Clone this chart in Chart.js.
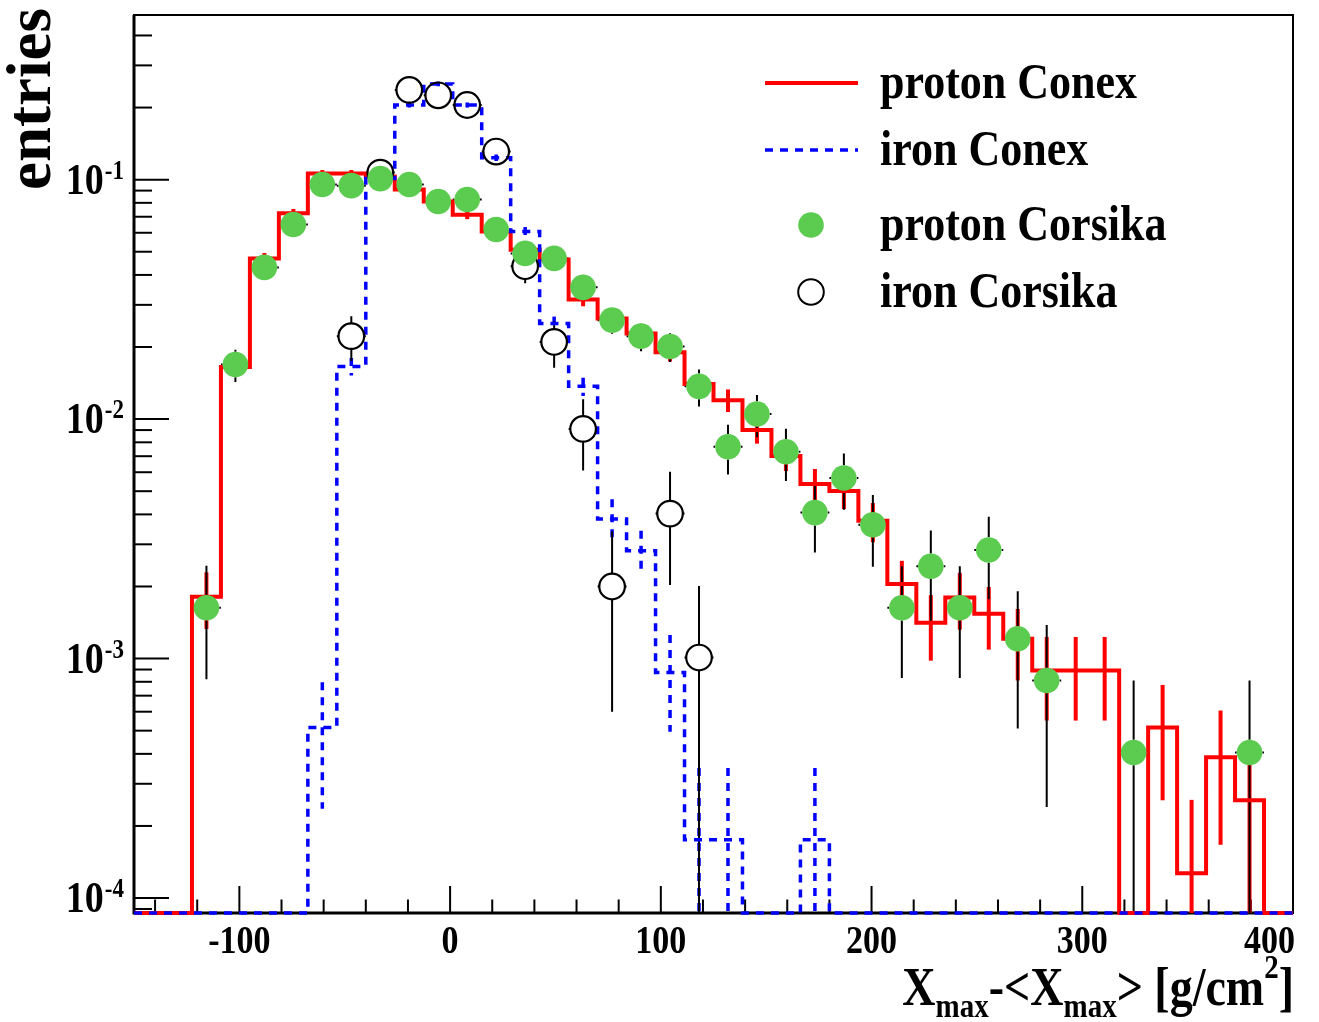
<!DOCTYPE html>
<html><head><meta charset="utf-8">
<script src="https://cdn.jsdelivr.net/npm/chart.js@4/dist/chart.umd.min.js"></script>
<style>html,body{margin:0;padding:0;background:#fff;}#wrap{position:relative;width:1319px;height:1022px;}</style>
</head><body><div id="wrap"><canvas id="c" width="1319" height="1022"></canvas></div>
<script>
// ---- data ----
const binEdges = [-150,-136.25,-122.5,-108.75,-95,-81.25,-67.5,-53.75,-40,-26.25,-12.5,1.25,15,28.75,42.5,56.25,70,83.75,97.5,111.25,125,138.75,152.5,166.25,180,193.75,207.5,221.25,235,248.75,262.5,276.25,290,303.75,317.5,331.25,345,358.75,372.5,386.25,400];
const protonConex = [0,0,0.00181,0.0165,0.0469,0.0724,0.106,0.106,0.103,0.091,0.081,0.0714,0.0607,0.051,0.0464,0.0316,0.0263,0.0228,0.0190,0.0140,0.0120,0.0090,0.00702,0.00536,0.00501,0.00376,0.00205,0.00141,0.00180,0.00154,0.00121,0.000891,0.000891,0.000891,0,0.000516,0.000127,0.000387,0.000256,0];
const protonConexErr = [0,0,0.00048,0.0015,0.0025,0.003,0.0037,0.0037,0.0036,0.0034,0.0032,0.003,0.0028,0.0026,0.0024,0.002,0.0018,0.0017,0.0016,0.0013,0.0013,0.0011,0.00095,0.00083,0.0008,0.0007,0.00051,0.00043,0.00048,0.00045,0.0004,0.00034,0.00034,0.00034,0,0.00026,0.00013,0.00022,0.00018,0];
const ironConex = [0,0,0,0,0,0,0.000516,0.0166,0.101,0.205,0.251,0.205,0.1235,0.0607,0.0251,0.0137,0.00383,0.00282,0.000875,0.000175,0.000175,0,0,0.000175,0,0,0,0,0,0,0,0,0,0,0,0,0,0,0,0];
const ironConexErr = [0,0,0,0,0,0,0.00028,0.0014,0.0035,0.005,0.0055,0.005,0.0039,0.0027,0.0017,0.0012,0.0008,0.0006,0.00038,0.000174,0.000174,0,0,0.000174,0,0,0,0,0,0,0,0,0,0,0,0,0,0,0,0];
const protonCorsika = [null,null,0.00163,0.0169,0.043,0.065,0.0955,0.0944,0.101,0.0955,0.081,0.0826,0.0619,0.0492,0.0469,0.0355,0.0259,0.0222,0.0201,0.0137,0.00767,0.0105,0.00731,0.00407,0.00568,0.00362,0.00163,0.00243,0.00163,0.00284,0.00121,0.00081,null,null,0.000405,null,null,null,0.000405,null];
const protonCorsikaErr = [0,0,0.00081,0.0026,0.004,0.005,0.006,0.006,0.006,0.006,0.0057,0.0058,0.005,0.0045,0.0044,0.0038,0.0032,0.003,0.0028,0.0024,0.0018,0.0021,0.0018,0.0013,0.0015,0.0012,0.0008,0.001,0.0008,0.00107,0.0007,0.00057,0,0,0.000405,0,0,0,0.000405,0];
const ironCorsika = [null,null,null,null,null,null,null,0.0222,0.107,0.237,0.225,0.205,0.131,0.0435,0.021,0.0091,0.002,null,0.00403,0.00101,null,null,null,null,null,null,null,null,null,null,null,null,null,null,null,null,null,null,null,null];
const ironCorsikaErr = [0,0,0,0,0,0,0,0.0047,0.01,0.015,0.015,0.014,0.011,0.0066,0.0046,0.003,0.0014,0,0.002,0.001,0,0,0,0,0,0,0,0,0,0,0,0,0,0,0,0,0,0,0,0];
const xTickLabels = [-100, 0, 100, 200, 300, 400];
const yTickExponents = [-1, -2, -3, -4];
const legendLabels = ['proton Conex', 'iron Conex', 'proton Corsika', 'iron Corsika'];

const X_MIN = -150, X_MAX = 400, Y_MIN = 8.66e-5, Y_MAX = 0.487;
const RED = '#ff0000', BLUE = '#0000ff', GREEN = '#5ccc50';
const MR = 12.8; // marker radius
const FONT = "'Liberation Serif','DejaVu Serif',serif";

const centers = binEdges.slice(0, -1).map((e, i) => (e + binEdges[i + 1]) / 2);
function histPoints(vals) {
  const pts = vals.map((v, i) => ({x: binEdges[i], y: v > 0 ? v : Y_MIN}));
  const last = vals[vals.length - 1];
  pts.push({x: binEdges[binEdges.length - 1], y: last > 0 ? last : Y_MIN});
  return pts;
}
function markerPoints(vals) {
  return vals.map((v, i) => ({x: centers[i], y: v})).filter(p => p.y !== null && p.y > 0);
}

function stretchedText(ctx, txt, x, y, size, sy, align) {
  ctx.save();
  ctx.font = 'bold ' + size + 'px ' + FONT;
  ctx.textAlign = align || 'left';
  ctx.textBaseline = 'alphabetic';
  ctx.translate(x, y);
  ctx.scale(1, sy);
  ctx.fillText(txt, 0, 0);
  ctx.restore();
}

const rootPlugin = {
  id: 'rootPlugin',
  beforeDatasetsDraw(chart) {
    const {ctx, chartArea: a, scales: {x, y}} = chart;
    ctx.save();
    ctx.fillStyle = '#ffffff';
    ctx.fillRect(a.left, a.top, a.right - a.left, a.bottom - a.top);
    // frame
    ctx.strokeStyle = '#000';
    ctx.lineWidth = 2;
    ctx.strokeRect(a.left, a.top, a.right - a.left, a.bottom - a.top);
    ctx.lineWidth = 3;
    ctx.beginPath();
    ctx.moveTo(a.left, a.top); ctx.lineTo(a.left, a.bottom); ctx.lineTo(a.right, a.bottom);
    ctx.stroke();
    // x ticks
    ctx.lineWidth = 2;
    for (let v = -140; v <= 400; v += 20) {
      const px = x.getPixelForValue(v);
      const len = (v % 100 === 0) ? 27 : 13.5;
      ctx.beginPath(); ctx.moveTo(px, a.bottom); ctx.lineTo(px, a.bottom - len); ctx.stroke();
    }
    // y ticks (log)
    for (let e = -5; e <= 0; e++) {
      for (let m = 1; m <= 9; m++) {
        const v = m * Math.pow(10, e);
        if (v < Y_MIN || v > Y_MAX) continue;
        const py = y.getPixelForValue(v);
        const len = m === 1 ? 35 : 18;
        ctx.beginPath(); ctx.moveTo(a.left, py); ctx.lineTo(a.left + len, py); ctx.stroke();
      }
    }
    // error bars of histograms
    function histErr(vals, errs, color, width, dash) {
      ctx.save();
      ctx.strokeStyle = color; ctx.lineWidth = width; ctx.setLineDash(dash);
      vals.forEach((v, i) => {
        if (!(v > 0) || !(errs[i] > 0)) return;
        const px = x.getPixelForValue(centers[i]);
        const hi = y.getPixelForValue(v + errs[i]);
        const lo = (v - errs[i]) > Y_MIN ? y.getPixelForValue(v - errs[i]) : a.bottom;
        ctx.beginPath(); ctx.moveTo(px, hi); ctx.lineTo(px, lo); ctx.stroke();
      });
      ctx.restore();
    }
    histErr(protonConex, protonConexErr, RED, 4, []);
    histErr(ironConex, ironConexErr, BLUE, 3.5, [8, 7]);
    // error bars of markers
    function markErr(vals, errs) {
      ctx.save();
      ctx.strokeStyle = '#000'; ctx.lineWidth = 2;
      vals.forEach((v, i) => {
        if (v === null || !(v > 0)) return;
        const px = x.getPixelForValue(centers[i]);
        const py = y.getPixelForValue(v);
        const hi = y.getPixelForValue(v + errs[i]);
        const lo = (v - errs[i]) > Y_MIN ? y.getPixelForValue(v - errs[i]) : a.bottom;
        ctx.beginPath();
        if (hi < py - MR) { ctx.moveTo(px, hi); ctx.lineTo(px, py - MR); }
        if (lo > py + MR) { ctx.moveTo(px, py + MR); ctx.lineTo(px, lo); }
        const xl = x.getPixelForValue(binEdges[i]), xr = x.getPixelForValue(binEdges[i + 1]);
        ctx.moveTo(xl, py); ctx.lineTo(px - MR, py);
        ctx.moveTo(px + MR, py); ctx.lineTo(xr, py);
        ctx.stroke();
      });
      ctx.restore();
    }
    markErr(ironCorsika, ironCorsikaErr);
    markErr(protonCorsika, protonCorsikaErr);
    ctx.restore();
  },
  afterDraw(chart) {
    const {ctx, chartArea: a, scales: {x, y}} = chart;
    ctx.save();
    ctx.fillStyle = '#000';
    // x tick labels
    xTickLabels.forEach((v, i) => {
      const px = x.getPixelForValue(v);
      const last = i === xTickLabels.length - 1;
      stretchedText(ctx, String(v), last ? a.right + 2 : px, 953, 34, 1.18, last ? 'right' : 'center');
    });
    // y tick labels 10^e
    yTickExponents.forEach(e => {
      const py = y.getPixelForValue(Math.pow(10, e));
      const sup = String(e);
      ctx.font = 'bold 23px ' + FONT;
      const wSup = ctx.measureText(sup).width;
      const right = 124;
      stretchedText(ctx, sup, right, py - 1, 23, 1.18, 'right');
      stretchedText(ctx, '10', right - wSup - 1, py + 14, 38, 1.15, 'right');
    });
    // y title
    ctx.save();
    ctx.translate(50, 190);
    ctx.rotate(-Math.PI / 2);
    ctx.font = 'bold 63px ' + FONT;
    ctx.textAlign = 'left';
    ctx.fillText('entries', 0, 0);
    ctx.restore();
    // x title
    const parts = [
      {t: 'X', s: 46, dy: 0}, {t: 'max', s: 29, dy: 12}, {t: '-<X', s: 46, dy: 0},
      {t: 'max', s: 29, dy: 12}, {t: '> [g/cm', s: 46, dy: 0}, {t: '2', s: 29, dy: -27}, {t: ']', s: 46, dy: 0}
    ];
    let total = 0;
    parts.forEach(p => { ctx.font = 'bold ' + p.s + 'px ' + FONT; p.w = ctx.measureText(p.t).width; total += p.w; });
    let cx = 1294 - total;
    parts.forEach(p => { stretchedText(ctx, p.t, cx, 1005 + p.dy, p.s, 1.18, 'left'); cx += p.w; });
    // legend
    const rows = [83, 150, 225, 292];
    ctx.lineWidth = 4; ctx.strokeStyle = RED;
    ctx.beginPath(); ctx.moveTo(765, rows[0]); ctx.lineTo(858, rows[0]); ctx.stroke();
    ctx.strokeStyle = BLUE; ctx.lineWidth = 3.5; ctx.setLineDash([8, 7]);
    ctx.beginPath(); ctx.moveTo(765, rows[1]); ctx.lineTo(858, rows[1]); ctx.stroke();
    ctx.setLineDash([]);
    ctx.fillStyle = GREEN;
    ctx.beginPath(); ctx.arc(811, rows[2], MR, 0, Math.PI * 2); ctx.fill();
    ctx.strokeStyle = '#000'; ctx.lineWidth = 2;
    ctx.beginPath(); ctx.arc(811, rows[3], MR, 0, Math.PI * 2); ctx.stroke();
    ctx.fillStyle = '#000';
    legendLabels.forEach((t, i) => stretchedText(ctx, t, 880, rows[i] + 15, 44, 1.15, 'left'));
    ctx.restore();
  }
};

new Chart(document.getElementById('c'), {
  type: 'scatter',
  data: {
    datasets: [
      {label: legendLabels[3], data: markerPoints(ironCorsika), pointRadius: MR, pointHoverRadius: MR,
       pointBackgroundColor: 'rgba(0,0,0,0)', pointBorderColor: '#000', pointBorderWidth: 2.2, showLine: false, order: 2, clip: false},
      {label: legendLabels[2], data: markerPoints(protonCorsika), pointRadius: MR, pointHoverRadius: MR,
       pointBackgroundColor: GREEN, pointBorderColor: GREEN, pointBorderWidth: 0, showLine: false, order: 1, clip: false},
      {label: legendLabels[1], type: 'line', data: histPoints(ironConex), borderColor: BLUE, borderWidth: 3.5,
       borderDash: [8, 7], stepped: 'before', pointRadius: 0, fill: false, order: 3, clip: false},
      {label: legendLabels[0], type: 'line', data: histPoints(protonConex), borderColor: RED, borderWidth: 4,
       stepped: 'before', pointRadius: 0, fill: false, order: 4, clip: false}
    ]
  },
  options: {
    responsive: false, animation: false, devicePixelRatio: 1,
    layout: {padding: {left: 134, right: 26, top: 13, bottom: 109}},
    scales: {
      x: {type: 'linear', min: X_MIN, max: X_MAX, display: false},
      y: {type: 'logarithmic', min: Y_MIN, max: Y_MAX, display: false}
    },
    plugins: {legend: {display: false}, tooltip: {enabled: false}},
    events: []
  },
  plugins: [rootPlugin]
});
</script></body></html>
